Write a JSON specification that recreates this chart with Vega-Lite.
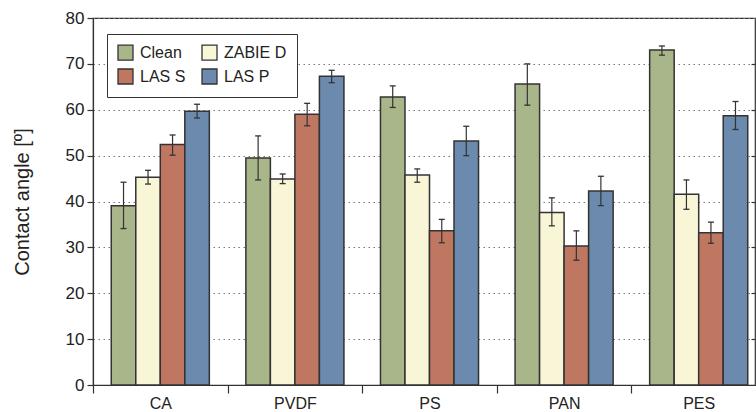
{
  "$schema": "https://vega.github.io/schema/vega-lite/v6.json",
  "width": 662,
  "height": 367,
  "autosize": {"type": "none"},
  "padding": {"left": 93, "top": 18, "right": 1, "bottom": 27},
  "config": {
    "view": {"stroke": "#333", "strokeWidth": 1.2},
    "font": "Liberation Sans"
  },
  "data": {
    "values": [
      {"polymer": "CA", "condition": "Clean", "angle": 39.1, "lo": 34.1, "hi": 44.2},
      {"polymer": "CA", "condition": "ZABIE D", "angle": 45.3, "lo": 43.8, "hi": 46.8},
      {"polymer": "CA", "condition": "LAS S", "angle": 52.4, "lo": 50.1, "hi": 54.5},
      {"polymer": "CA", "condition": "LAS P", "angle": 59.7, "lo": 58.2, "hi": 61.2},
      {"polymer": "PVDF", "condition": "Clean", "angle": 49.5, "lo": 44.7, "hi": 54.3},
      {"polymer": "PVDF", "condition": "ZABIE D", "angle": 44.9, "lo": 43.9, "hi": 46.0},
      {"polymer": "PVDF", "condition": "LAS S", "angle": 59.0, "lo": 56.5, "hi": 61.4},
      {"polymer": "PVDF", "condition": "LAS P", "angle": 67.3, "lo": 65.9, "hi": 68.6},
      {"polymer": "PS", "condition": "Clean", "angle": 62.8, "lo": 60.5, "hi": 65.2},
      {"polymer": "PS", "condition": "ZABIE D", "angle": 45.8, "lo": 44.2, "hi": 47.1},
      {"polymer": "PS", "condition": "LAS S", "angle": 33.6, "lo": 31.0, "hi": 36.1},
      {"polymer": "PS", "condition": "LAS P", "angle": 53.2, "lo": 50.0, "hi": 56.4},
      {"polymer": "PAN", "condition": "Clean", "angle": 65.6, "lo": 61.0, "hi": 70.0},
      {"polymer": "PAN", "condition": "ZABIE D", "angle": 37.6, "lo": 34.7, "hi": 40.8},
      {"polymer": "PAN", "condition": "LAS S", "angle": 30.3, "lo": 27.2, "hi": 33.6},
      {"polymer": "PAN", "condition": "LAS P", "angle": 42.3, "lo": 39.1, "hi": 45.5},
      {"polymer": "PES", "condition": "Clean", "angle": 73.0, "lo": 71.9, "hi": 73.9},
      {"polymer": "PES", "condition": "ZABIE D", "angle": 41.6, "lo": 38.3, "hi": 44.7},
      {"polymer": "PES", "condition": "LAS S", "angle": 33.2, "lo": 30.9, "hi": 35.5},
      {"polymer": "PES", "condition": "LAS P", "angle": 58.7, "lo": 55.7, "hi": 61.8}
    ]
  },
  "encoding": {
    "x": {
      "field": "polymer",
      "type": "nominal",
      "sort": ["CA", "PVDF", "PS", "PAN", "PES"],
      "scale": {"range": [0, 673], "paddingInner": 0, "paddingOuter": 0},
      "axis": {
        "title": null,
        "labelAngle": 0,
        "labelFont": "Liberation Sans",
        "labelFontSize": 16,
        "labelColor": "#222",
        "labelPadding": 2,
        "tickBand": "extent",
        "tickSize": 8,
        "tickColor": "#333",
        "tickWidth": 1.2,
        "domainColor": "#333",
        "domainWidth": 1.2,
        "grid": false
      }
    },
    "xOffset": {
      "field": "condition",
      "type": "nominal",
      "sort": ["Clean", "ZABIE D", "LAS S", "LAS P"],
      "scale": {"paddingInner": 0, "paddingOuter": 0.745}
    }
  },
  "layer": [
    {
      "mark": {"type": "bar", "stroke": "#333", "strokeWidth": 1.5},
      "encoding": {
        "y": {
          "field": "angle",
          "type": "quantitative",
          "scale": {"domain": [0, 80], "nice": false},
          "axis": {
            "title": "Contact angle [º]",
            "titleFont": "Liberation Sans",
            "titleFontSize": 20,
            "titleFontWeight": "normal",
            "titleColor": "#222",
            "titleX": -71,
            "titleBaseline": "middle",
            "values": [0, 10, 20, 30, 40, 50, 60, 70, 80],
            "labelFont": "Liberation Sans",
            "labelFontSize": 17,
            "labelColor": "#222",
            "labelPadding": 3,
            "tickSize": 6,
            "tickColor": "#333",
            "tickWidth": 1.2,
            "domainColor": "#333",
            "domainWidth": 1.2,
            "grid": true,
            "gridColor": "#777",
            "gridDash": [1.5, 3.5],
            "gridWidth": 1.2
          }
        },
        "color": {
          "field": "condition",
          "type": "nominal",
          "sort": ["Clean", "ZABIE D", "LAS S", "LAS P"],
          "scale": {
            "domain": ["Clean", "ZABIE D", "LAS S", "LAS P"],
            "range": ["#a9b68a", "#f9f5d7", "#bf7761", "#6c89ae"]
          },
          "legend": {
            "title": null,
            "orient": "none",
            "legendX": 14,
            "legendY": 16,
            "columns": 2,
            "direction": "horizontal",
            "fillColor": "white",
            "strokeColor": "#333",
            "padding": 10,
            "columnPadding": 13,
            "rowPadding": 3,
            "symbolType": "square",
            "symbolSize": 225,
            "symbolStrokeColor": "#333",
            "symbolStrokeWidth": 1.3,
            "symbolOpacity": 1,
            "labelFont": "Liberation Sans",
            "labelFontSize": 16,
            "labelColor": "#222",
            "labelOffset": 6
          }
        }
      }
    },
    {
      "mark": {"type": "rule", "color": "#333", "strokeWidth": 1.2},
      "encoding": {
        "y": {"field": "lo", "type": "quantitative", "axis": null},
        "y2": {"field": "hi"}
      }
    },
    {
      "mark": {"type": "tick", "color": "#333", "thickness": 1.3, "size": 6, "opacity": 1},
      "encoding": {
        "y": {"field": "lo", "type": "quantitative", "axis": null}
      }
    },
    {
      "mark": {"type": "tick", "color": "#333", "thickness": 1.3, "size": 6, "opacity": 1},
      "encoding": {
        "y": {
          "field": "hi",
          "type": "quantitative",
          "axis": {
            "orient": "right",
            "title": null,
            "labels": false,
            "domain": false,
            "grid": false,
            "values": [10, 20, 30, 40, 50, 60, 70],
            "tickSize": -4,
            "tickColor": "#333",
            "tickWidth": 1.2
          }
        }
      }
    }
  ],
  "resolve": {"axis": {"y": "independent"}}
}
